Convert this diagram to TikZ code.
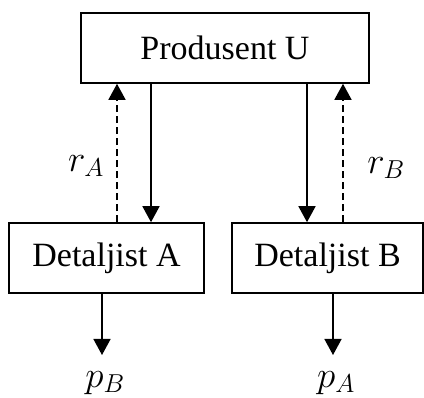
\documentclass[tikz,border=0pt]{standalone}
\usepackage{fix-cm}
\usepackage{fontspec}
\setmainfont{Liberation Serif}
\usetikzlibrary{arrows.meta}

\tikzset{
  boks/.style={draw, line width=1.6pt, inner sep=0pt, minimum height=70pt,
    font=\fontsize{34}{40}\selectfont},
  etikett/.style={inner sep=0pt, font=\fontsize{37}{44}\selectfont},
  pil/.style={->, line width=1.5pt},
  retur/.style={->, line width=1.5pt, dash pattern=on 7pt off 4pt}
}

\begin{document}
\begin{tikzpicture}[x=1pt, y=-1pt, >={Triangle[length=16pt, width=17pt]}]
  \useasboundingbox (0,0) rectangle (424,398);

  % bokser
  \node[boks, minimum width=288pt] (prod) at (225,48) {Produsent U};
  \node[boks, minimum width=195pt] (detA) at (106.5,258) {Detaljist A};
  \node[boks, minimum width=191pt] (detB) at (327.5,258) {Detaljist B};

  % priser ut
  \node[etikett] (pB) at (105,383) {$p_B$};
  \node[etikett] (pA) at (336,383) {$p_A$};

  % leveranse ned
  \draw[pil] (151,0 |- prod.south) -- (151,0 |- detA.north);
  \draw[pil] (307,0 |- prod.south) -- (307,0 |- detB.north);

  % betaling opp
  \draw[retur] (117,0 |- detA.north) -- (117,0 |- prod.south);
  \draw[retur] (343,0 |- detB.north) -- (343,0 |- prod.south);
  \node[etikett] (rA) at (86,166) {$r_A$};
  \node[etikett] (rB) at (386,168) {$r_B$};

  % til kunder
  \draw[pil] (102,0 |- detA.south) -- (102,355);
  \draw[pil] (333,0 |- detB.south) -- (333,355);
\end{tikzpicture}
\end{document}
